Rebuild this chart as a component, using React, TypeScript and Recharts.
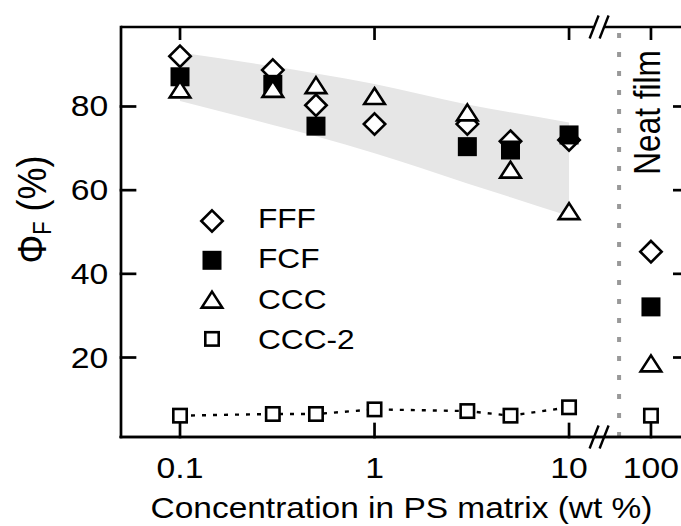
import React from 'react';
import { ComposedChart, Scatter, Area, XAxis, YAxis, ReferenceLine, Legend } from 'recharts';

// ---------- data ----------
const concentrations = [0.1, 0.3, 0.5, 1, 3, 5, 10];
const fffYield = [92.0, 88.7, 80.3, 75.8, 75.8, 71.7, 72.0];
const fcfConcentrations = [0.1, 0.3, 0.5, 3, 5, 10];
const fcfYield = [87.1, 85.3, 75.3, 70.4, 69.6, 73.2];
const cccYield = [84.1, 84.2, 85.1, 82.5, 78.6, 64.9, 55.0];
const ccc2Yield = [6.1, 6.5, 6.5, 7.6, 7.2, 6.1, 8.1];
const bandUpper = [92.9, 89.6, 87.9, 85.4, 80.5, 78.6, 76.2];
const bandLower = [81.3, 75.6, 72.9, 68.8, 61.6, 58.3, 53.8];
const neatFilmX = 100;
const neatFilmNames = ['FFF', 'FCF', 'CCC', 'CCC-2'];
const neatFilmYield = [45.3, 32.1, 18.6, 6.1];
const seriesNames = ['FFF', 'FCF', 'CCC', 'CCC-2'];
const xTicks = [0.1, 1, 10];
const neatTicks = [100];
const yTicks = [20, 40, 60, 80];
const mainDomain = [0.04973, 40.4];
const neatDomain = [0, 106.8];
const yDomain = [1, 99];
const axisBreakAt = 14.27;
const separatorAt = 18.08;

const bandData = concentrations.map((x, i) => ({ x, lo: bandLower[i], hi: bandUpper[i] }));
const fffData = concentrations.map((x, i) => ({ x, y: fffYield[i] }));
const fcfData = fcfConcentrations.map((x, i) => ({ x, y: fcfYield[i] }));
const cccData = concentrations.map((x, i) => ({ x, y: cccYield[i] }));
const ccc2Data = concentrations.map((x, i) => ({ x, y: ccc2Yield[i] }));
const neatData = (name: string) => [{ x: neatFilmX, y: neatFilmYield[neatFilmNames.indexOf(name)] }];

// ---------- style ----------
const FONT = '"Liberation Sans", Arial, Helvetica, sans-serif';
const SX = 1.15;
const SW = 2.6;
const AW = 2.7;
const THIN = 0.01;
const ax = () => ({ stroke: '#000', strokeWidth: AW, strokeLinecap: 'square' as const });

function StretchText({ x, y, size, anchor, children }: any) {
  return (
    <g transform={`translate(${x},${y}) scale(${SX},1)`}>
      <text x={0} y={0} fontSize={size} fontFamily={FONT} textAnchor={anchor} fill="#000">
        {children}
      </text>
    </g>
  );
}

function Marker({ kind, cx, cy }: { kind: string; cx: number; cy: number }) {
  if (cx == null || cy == null) return null;
  switch (kind) {
    case 'FFF': {
      const r = 10.7;
      return (
        <path d={`M${cx},${cy - r}L${cx + r},${cy}L${cx},${cy + r}L${cx - r},${cy}Z`}
          fill="#fff" stroke="#000" strokeWidth={SW} strokeLinejoin="miter" />
      );
    }
    case 'FCF': {
      const h = 9.5;
      return <rect x={cx - h} y={cy - h} width={2 * h} height={2 * h} fill="#000" />;
    }
    case 'CCC': {
      const w = 10.3;
      const h = 8;
      return (
        <path d={`M${cx},${cy - h}L${cx + w},${cy + h}L${cx - w},${cy + h}Z`}
          fill="#fff" stroke="#000" strokeWidth={SW} strokeLinejoin="miter" />
      );
    }
    default: {
      const h = 6.7;
      return <rect x={cx - h} y={cy - h} width={2 * h} height={2 * h} fill="#fff" stroke="#000" strokeWidth={SW} />;
    }
  }
}

const shapeFor = (kind: string) => (p: any) => <Marker kind={kind} cx={p.cx} cy={p.cy} />;

const XTick = (p: any) => (
  <StretchText x={p.x} y={p.y + 54} size={29.3} anchor="middle">{String(p.payload.value)}</StretchText>
);
const YTick = (p: any) => (
  <StretchText x={p.x - 26.7} y={p.y + 10} size={29.3} anchor="end">{String(p.payload.value)}</StretchText>
);

// inward tick on the top frame edge, placed by the x scale
const TopTickMark = (p: any) => {
  const x = p.x1;
  const top = Math.min(p.y1, p.y2);
  return <line x1={x} y1={top} x2={x} y2={top + 13} stroke="#000" strokeWidth={2.7} />;
};
// inward tick on the right frame edge, placed by the y scale
const RightTickMark = (p: any) => {
  const right = Math.max(p.x1, p.x2);
  const y = p.y1;
  return <line x1={right - 14} y1={y} x2={right} y2={y} stroke="#000" strokeWidth={2.7} />;
};
// top frame line, placed by the y scale
const TopFrame = (p: any) => (
  <line x1={Math.min(p.x1, p.x2)} y1={p.y1} x2={Math.max(p.x1, p.x2)} y2={p.y2} stroke="#000" strokeWidth={2.7} />
);

const XTitle = (p: any) => {
  const vb = p.viewBox || { x: 121, y: 437, width: 566, height: 89 };
  return (
    <StretchText x={vb.x + vb.width / 2 - 2.5} y={vb.y + 81} size={29.1} anchor="middle">
      Concentration in PS matrix (wt %)
    </StretchText>
  );
};

const YTitle = (p: any) => {
  const vb = p.viewBox || { x: 0, y: 27, width: 121, height: 410 };
  return (
    <g transform={`translate(${vb.x + 46},${vb.y + 182.5}) scale(${SX},1) rotate(-90)`}>
      <text x={0} y={0} textAnchor="middle" fontSize={36} fontFamily={FONT} fill="#000">
        Φ<tspan fontSize={22} dy={4}>F</tspan><tspan fontSize={36} dy={-4}> (%)</tspan>
      </text>
    </g>
  );
};

const NeatLabel = (p: any) => {
  const vb = p.viewBox || { x: 651, y: 27, width: 0, height: 410 };
  return (
    <g transform={`translate(${vb.x + 9},${vb.y + 85.5}) scale(${SX},1) rotate(-90)`}>
      <text x={0} y={0} textAnchor="middle" fontSize={31.5} fontFamily={FONT} fill="#000">Neat film</text>
    </g>
  );
};

const BreakMarks = (p: any) => {
  const x = p.x1;
  const yTop = Math.min(p.y1, p.y2);
  const yBot = Math.max(p.y1, p.y2);
  const mark = (y: number) => (
    <g>
      <polygon points={`${x - 6.6},${y + 4} ${x - 3.4},${y - 4} ${x + 6.6},${y - 4} ${x + 3.4},${y + 4}`} fill="#fff" />
      <line x1={x - 9.5} y1={y + 11.5} x2={x - 0.5} y2={y - 11.5} stroke="#000" strokeWidth={2.4} />
      <line x1={x + 0.5} y1={y + 11.5} x2={x + 9.5} y2={y - 11.5} stroke="#000" strokeWidth={2.4} />
    </g>
  );
  return (
    <g>
      {mark(yTop)}
      {mark(yBot)}
    </g>
  );
};

const renderLegend = (props: any) => {
  const payload = (props && props.payload) || [];
  let names = seriesNames.filter((n) => payload.some((e: any) => e.value === n));
  if (names.length === 0) names = seriesNames;
  return (
    <svg width={230} height={175} style={{ display: 'block', overflow: 'visible' }}>
      {names.map((n, i) => (
        <g key={n}>
          <Marker kind={n} cx={32} cy={31 + i * 39.3} />
          <StretchText x={78} y={37.5 + i * 40.5} size={27.5} anchor="start">{n}</StretchText>
        </g>
      ))}
    </svg>
  );
};

export default function App() {
  return (
    <div style={{ position: 'absolute', left: 0, top: 0, width: 681, height: 526, overflow: 'hidden', background: '#fff' }}>
      <ComposedChart width={700} height={526} data={bandData} margin={{ top: 27, right: 13, bottom: 0, left: 0 }}>
        <XAxis xAxisId="main" dataKey="x" type="number" scale="log" domain={mainDomain} allowDataOverflow
          ticks={xTicks} interval={0} orientation="bottom" height={89} tickSize={-13} tickMargin={0}
          stroke="#000" axisLine={ax()} tickLine={ax()} tick={XTick} label={{ content: XTitle }} />
        <XAxis xAxisId="neat" dataKey="x" type="number" domain={neatDomain} allowDataOverflow
          ticks={neatTicks} interval={0} orientation="bottom" mirror height={THIN} tickSize={13} tickMargin={0}
          stroke="#000" axisLine={ax()} tickLine={ax()} tick={XTick} />
        <YAxis yAxisId="left" dataKey="y" type="number" domain={yDomain} allowDataOverflow ticks={yTicks}
          interval={0} width={121} tickSize={-14} tickMargin={0} stroke="#000" axisLine={ax()} tickLine={ax()}
          tick={YTick} label={{ content: YTitle }} />

        <Area xAxisId="main" yAxisId="left" dataKey={(d: any) => [d.lo, d.hi]} type="monotone"
          fill="#e6e6e6" fillOpacity={1} stroke="none" isAnimationActive={false} legendType="none"
          dot={false} activeDot={false} />

        <ReferenceLine xAxisId="main" yAxisId="left" x={separatorAt} stroke="#999" strokeWidth={4}
          strokeDasharray="5 14" />
        <ReferenceLine xAxisId="neat" yAxisId="left" x={neatFilmX} stroke="none" label={{ content: NeatLabel }} />

        <Scatter name="CCC-2" xAxisId="main" yAxisId="left" data={ccc2Data} shape={shapeFor('CCC-2')}
          line={{ stroke: '#000', strokeWidth: 2.4, strokeDasharray: '4 7' }} lineType="joint"
          isAnimationActive={false} />
        <Scatter name="FFF" xAxisId="main" yAxisId="left" data={fffData} shape={shapeFor('FFF')} isAnimationActive={false} />
        <Scatter name="FCF" xAxisId="main" yAxisId="left" data={fcfData} shape={shapeFor('FCF')} isAnimationActive={false} />
        <Scatter name="CCC" xAxisId="main" yAxisId="left" data={cccData} shape={shapeFor('CCC')} isAnimationActive={false} />

        {neatFilmNames.map((n) => (
          <Scatter key={`neat-${n}`} name={`${n} neat`} xAxisId="neat" yAxisId="left"
            data={neatData(n)} shape={shapeFor(n)} legendType="none" isAnimationActive={false} />
        ))}

        {/* top frame and inward ticks on the top and right edges */}
        <ReferenceLine xAxisId="main" yAxisId="left" y={yDomain[1]} ifOverflow="visible" shape={TopFrame} />
        <ReferenceLine xAxisId="main" yAxisId="left" x={xTicks[0]} ifOverflow="visible" shape={TopTickMark} />
        <ReferenceLine xAxisId="main" yAxisId="left" x={xTicks[1]} ifOverflow="visible" shape={TopTickMark} />
        <ReferenceLine xAxisId="main" yAxisId="left" x={xTicks[2]} ifOverflow="visible" shape={TopTickMark} />
        <ReferenceLine xAxisId="neat" yAxisId="left" x={neatTicks[0]} ifOverflow="visible" shape={TopTickMark} />
        <ReferenceLine xAxisId="main" yAxisId="left" y={yTicks[0]} ifOverflow="visible" shape={RightTickMark} />
        <ReferenceLine xAxisId="main" yAxisId="left" y={yTicks[1]} ifOverflow="visible" shape={RightTickMark} />
        <ReferenceLine xAxisId="main" yAxisId="left" y={yTicks[2]} ifOverflow="visible" shape={RightTickMark} />
        <ReferenceLine xAxisId="main" yAxisId="left" y={yTicks[3]} ifOverflow="visible" shape={RightTickMark} />
        <ReferenceLine xAxisId="main" yAxisId="left" x={axisBreakAt} shape={BreakMarks} />

        <Legend layout="vertical" align="center" verticalAlign="middle" content={renderLegend}
          wrapperStyle={{ left: 180, top: 190, width: 230, height: 175 }} />
      </ComposedChart>
    </div>
  );
}
